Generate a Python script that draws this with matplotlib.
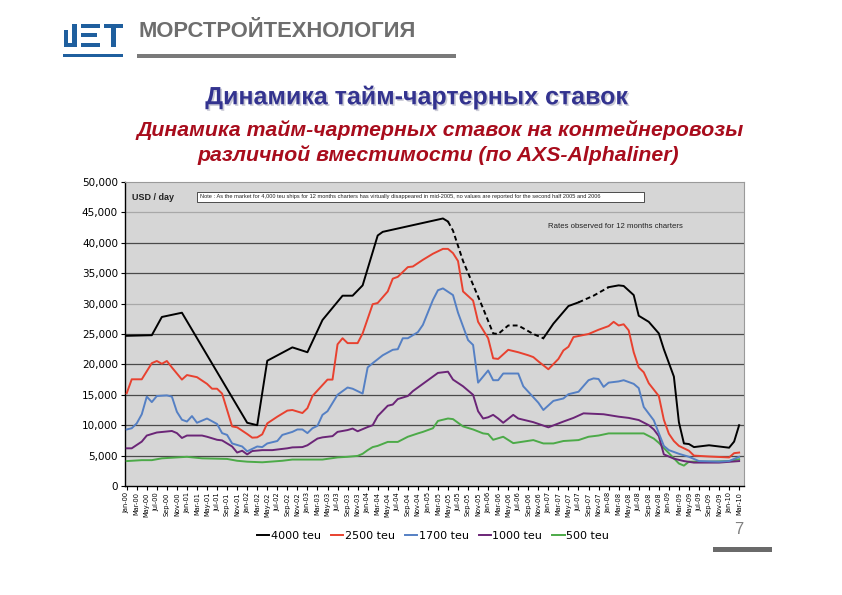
import matplotlib
matplotlib.use("Agg")
import matplotlib.pyplot as plt
import matplotlib.patches as mpatches
import matplotlib.patheffects as pe
import numpy as np
import pandas as pd

plt.rcParams['font.family'] = ['Liberation Sans', 'DejaVu Sans']

# month index: 0 = Jan-2000 ... 122 = Mar-2010
months = pd.date_range('2000-01-01', '2010-03-01', freq='MS')
tick_labels = [d.strftime('%b-%y') for d in months[::2]]

m_4000 = [0, 5, 7, 11, 24, 26, 28, 33, 36, 39, 42, 43, 45, 47, 50, 51, 63, 64,
          65, 67, 71, 73, 74, 76, 78, 81, 83, 85, 88, 90, 93, 96, 98, 99, 101,
          102, 104, 106, 107, 109, 110, 111, 112, 113, 116, 120, 121, 122]
v_4000 = [24700, 24800, 27800, 28500, 10400, 10000, 20600, 22800, 22000, 27300,
          30300, 31300, 31300, 33000, 41200, 41800, 44000, 43500,
          42000, 37000, 29200, 25100, 25000, 26400, 26400, 25000, 24300,
          26700, 29600, 30200, 31300, 32700, 33000, 32900, 31400,
          28000, 27000, 25100, 22500, 18000, 10500, 7000, 6900, 6400, 6700,
          6300, 7300, 10000]
# periods without reported 4000 teu values (shown dashed)
gaps_4000 = [(64, 83), (90, 96)]

m_2500 = [0, 1, 3, 5, 6, 7, 8, 9, 11, 12, 14, 16, 17, 18, 19, 21, 22, 24, 25,
          26, 27, 28, 30, 32, 33, 35, 36, 37, 39, 40, 41, 42, 43, 44, 46, 47,
          49, 50, 52, 53, 54, 56, 57, 59, 61, 63, 64, 65, 66, 67, 69, 70, 72,
          73, 74, 76, 78, 80, 81, 82, 84, 86, 87, 88, 89, 92, 94, 96, 97, 98,
          99, 100, 101, 102, 103, 104, 106, 107, 108, 109, 110, 112, 113, 116,
          120, 121, 122]
v_2500 = [15250, 17550, 17550, 20200, 20560, 20100, 20560, 19500, 17500, 18250,
          17900, 16800, 16000, 16000, 15200, 9800, 9650, 8550, 7950, 8000,
          8500, 10300, 11400, 12400, 12500, 12000, 12800, 14800, 16600, 17500,
          17500, 23300, 24300, 23500, 23500, 25100, 29900, 30100, 32000,
          34100, 34400, 36000, 36100, 37200, 38200, 39000, 39000, 38300,
          37000, 32000, 30500, 27000, 24300, 21000, 20900, 22400, 22000,
          21500, 21200, 20500, 19200, 20900, 22300, 22900, 24500, 25000,
          25700, 26300, 27000, 26400, 26600, 25600, 22000, 19500, 18700,
          16900, 14800, 10900, 8600, 7400, 6600, 5800, 5000, 4850, 4700,
          5400, 5500]

m_1700 = [0, 1, 2, 3, 4, 5, 6, 8, 9, 10, 11, 12, 13, 14, 16, 18, 19, 20, 21,
          23, 24, 25, 26, 27, 28, 30, 31, 33, 34, 35, 36, 37, 38, 39, 40, 42,
          44, 45, 47, 48, 49, 51, 53, 54, 55, 56, 58, 59, 61, 62, 63, 65, 66,
          68, 69, 70, 72, 73, 74, 75, 78, 79, 81, 82, 83, 85, 87, 88, 90, 92,
          93, 94, 95, 96, 98, 99, 101, 102, 103, 105, 106, 107, 108, 110, 112,
          114, 118, 120, 122]
v_1700 = [9300, 9500, 10300, 11800, 14700, 13800, 14800, 14900, 14700, 12200,
          10900, 10600, 11500, 10400, 11100, 10200, 8700, 8400, 7000, 6500,
          5700, 6100, 6500, 6400, 7000, 7400, 8400, 8900, 9300, 9300, 8700,
          9500, 9900, 11700, 12300, 15000, 16200, 16000, 15200, 19500, 20200,
          21500, 22400, 22500, 24300, 24300, 25300, 26500, 30600, 32200,
          32500, 31400, 28500, 24000, 23200, 17000, 19000, 17400, 17400,
          18500, 18500, 16400, 14600, 13700, 12500, 14000, 14400, 15100,
          15500, 17400, 17700, 17600, 16300, 17000, 17200, 17400, 16800,
          16100, 13000, 10800, 8700, 6600, 5900, 5300, 4800, 4100, 4000,
          4100, 4800]

m_1000 = [0, 1, 3, 4, 6, 9, 10, 11, 12, 15, 16, 18, 19, 21, 22, 23, 24, 25,
          27, 29, 32, 33, 35, 36, 38, 39, 41, 42, 44, 45, 46, 48, 49, 50, 52,
          53, 54, 56, 57, 59, 61, 62, 64, 65, 67, 69, 70, 71, 72, 73, 74, 75,
          77, 78, 81, 84, 87, 89, 91, 95, 98, 100, 102, 104, 105, 106, 107,
          109, 111, 113, 118, 122]
v_1000 = [6200, 6200, 7300, 8300, 8800, 9050, 8700, 7900, 8300, 8300, 8100,
          7600, 7500, 6500, 5500, 5800, 5200, 5750, 5900, 5900, 6200, 6350,
          6400, 6700, 7800, 8000, 8200, 8900, 9200, 9450, 9000, 9700, 10000,
          11500, 13200, 13400, 14300, 14800, 15600, 16800, 18000, 18600,
          18800, 17500, 16400, 15000, 12300, 11100, 11300, 11700, 11100,
          10400, 11700, 11100, 10500, 9650, 10600, 11200, 11950, 11800,
          11400, 11200, 10850, 10000, 9300, 8200, 5200, 4500, 4100, 3850,
          3850, 4100]

m_500 = [0, 3, 5, 7, 12, 15, 20, 22, 24, 27, 31, 33, 39, 42, 44, 46, 47, 48,
         49, 50, 52, 54, 56, 58, 59, 61, 62, 64, 65, 67, 69, 71, 72, 73, 75,
         77, 79, 81, 83, 85, 87, 90, 92, 94, 96, 103, 105, 106, 108, 110, 111,
         112, 116, 120, 122]
v_500 = [4100, 4250, 4250, 4550, 4800, 4550, 4450, 4150, 4000, 3900, 4150,
         4350, 4350, 4700, 4800, 4950, 5300, 5900, 6400, 6600, 7250, 7250,
         8100, 8650, 8900, 9500, 10700, 11100, 11000, 9800, 9300, 8650, 8550,
         7600, 8100, 7050, 7300, 7550, 7000, 7000, 7400, 7550, 8100, 8300,
         8650, 8650, 7800, 7100, 5400, 3700, 3350, 4000, 4000, 4100, 4400]

series_names = ['4000 teu', '2500 teu', '1700 teu', '1000 teu', '500 teu']
series_colors = ['#000000', '#e8412f', '#5580c4', '#6b2577', '#4caa48']

W, H = 842, 595
fig = plt.figure(figsize=(W / 100, H / 100), dpi=100)


def fx(x):
    return x / W


def fy(y):
    return 1 - y / H


def rect(x0, y0, x1, y1, color):
    fig.add_artist(mpatches.Rectangle((fx(x0), fy(y1)), fx(x1) - fx(x0), fy(y0) - fy(y1),
                                      transform=fig.transFigure, color=color, lw=0))


# logo
blue = '#1f5f9e'
rect(64, 30, 68, 47, blue)
rect(72, 24, 77, 47, blue)
rect(68, 43, 77, 47, blue)
rect(81, 24, 100, 28, blue)
rect(81, 33, 97, 37, blue)
rect(81, 43, 100, 47, blue)
rect(104, 24, 123, 28, blue)
rect(111, 24, 116, 47, blue)
rect(63, 54, 123, 57, blue)
rect(137, 54, 456, 58, '#7a7a7a')
fig.text(fx(138), fy(31.5), 'МОРСТРОЙТЕХНОЛОГИЯ', fontsize=15.8, fontweight='bold',
         color='#6e6e6e', va='center', ha='left')

fig.text(fx(417), fy(97), 'Динамика тайм-чартерных ставок', fontsize=18, fontweight='bold',
         color='#33338f', ha='center', va='center',
         path_effects=[pe.withSimplePatchShadow(offset=(1.2, -1.2), shadow_rgbFace='#9a9ab0', alpha=0.5)])
fig.text(fx(440), fy(130), 'Динамика тайм-чартерных ставок на контейнеровозы', fontsize=15.3,
         fontweight='bold', style='italic', color='#a80c1c', ha='center', va='center')
fig.text(fx(438), fy(155), 'различной вместимости (по AXS-Alphaliner)', fontsize=15.3,
         fontweight='bold', style='italic', color='#a80c1c', ha='center', va='center')

# chart
ax = fig.add_axes([fx(125), fy(486), fx(744) - fx(125), fy(182) - fy(486)])
ax.set_facecolor('#d6d6d6')
ax.set_xlim(-0.34, 122.97)
ax.set_ylim(0, 50000)

light_levels = [30000, 45000]
for lev in range(5000, 50000, 5000):
    ax.axhline(lev, color='#a8a8a8' if lev in light_levels else '#4a4a4a', lw=0.9, zorder=1)


def in_gap(x, gaps):
    return any(a <= x <= b for a, b in gaps)


handles = []
data = [(m_4000, v_4000), (m_2500, v_2500), (m_1700, v_1700), (m_1000, v_1000), (m_500, v_500)]
for idx, ((mm, vv), name, col) in enumerate(zip(data, series_names, series_colors)):
    gaps = gaps_4000 if idx == 0 else []
    mm = np.array(mm)
    vv = np.array(vv)
    # split into runs of solid / dashed segments
    dashed = [in_gap((mm[i] + mm[i + 1]) / 2, gaps) for i in range(len(mm) - 1)]
    start = 0
    first = None
    for i in range(1, len(dashed) + 1):
        if i == len(dashed) or dashed[i] != dashed[start]:
            ls = (0, (2.5, 1.6)) if dashed[start] else '-'
            ln, = ax.plot(mm[start:i + 1], vv[start:i + 1], color=col, lw=1.4, ls=ls,
                          zorder=3 + (5 - idx))
            if first is None and not dashed[start]:
                first = ln
            start = i
    first.set_label(name)
    handles.append(first)

ax.set_yticks(np.arange(0, 50001, 5000))
ax.set_yticklabels([f'{v:,}' for v in range(0, 50001, 5000)], fontsize=7.5, family='DejaVu Sans')
ax.set_xticks(np.arange(0, 123, 2))
ax.set_xticklabels(tick_labels, rotation=90, fontsize=4.8, family='DejaVu Sans')
ax.tick_params(axis='both', length=3, width=0.8, color='black', pad=2)
ax.tick_params(axis='x', pad=1.5)
for s in ['top', 'right']:
    ax.spines[s].set_color('#9a9a9a')
    ax.spines[s].set_linewidth(0.8)
for s in ['left', 'bottom']:
    ax.spines[s].set_color('black')
    ax.spines[s].set_linewidth(1.0)

ax.text((131.5 - 125) / 619, (486 - 197) / 304, 'USD / day', transform=ax.transAxes,
        fontsize=6.5, fontweight='bold', color='#222222', va='center', ha='left')
ax.add_patch(mpatches.Rectangle(((197 - 125) / 619, (486 - 201.5) / 304), 447 / 619, 9.5 / 304,
                                transform=ax.transAxes, facecolor='white', edgecolor='#333333',
                                lw=0.6, zorder=4))
ax.text((200 - 125) / 619, (486 - 196.7) / 304,
        'Note : As the market for 4,000 teu ships for 12 months charters has virtually disappeared '
        'in mid-2005, no values are reported for the second half 2005 and 2006',
        transform=ax.transAxes, fontsize=4.1, color='#222222', va='center', ha='left', zorder=5)
ax.text((548 - 125) / 619, (486 - 226.5) / 304, 'Rates observed for 12 months charters',
        transform=ax.transAxes, fontsize=5.6, color='#222222', va='center', ha='left')

fig.legend(handles=handles, loc='center', bbox_to_anchor=(fx(433), fy(536)), ncol=5,
           frameon=False, fontsize=8, handlelength=1.1, handletextpad=0.15,
           columnspacing=0.9, prop={'family': 'DejaVu Sans', 'size': 8})

fig.text(fx(743), fy(529), '7', fontsize=12, color='#808080', ha='right', va='center')
rect(713, 547, 772, 552, '#6a6a6a')

fig.savefig('out.png', dpi=100, facecolor='white')
